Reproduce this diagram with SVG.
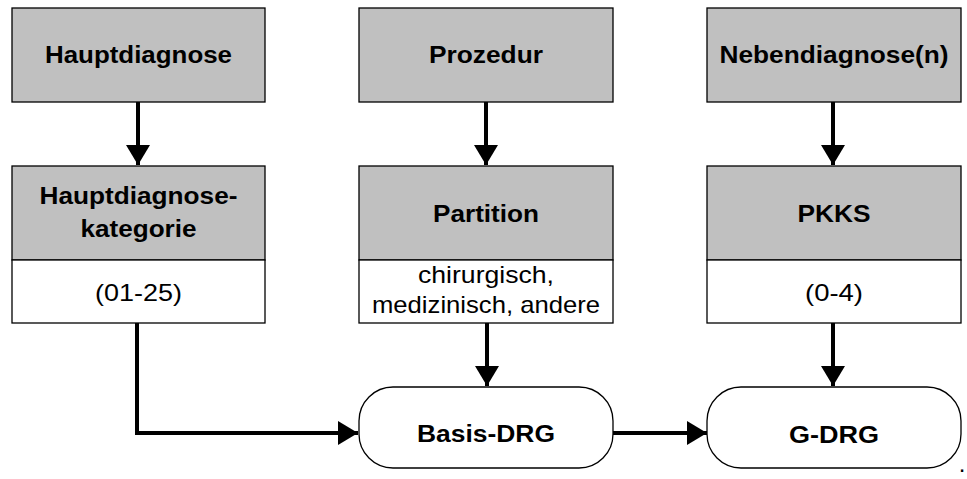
<svg xmlns="http://www.w3.org/2000/svg" width="967" height="479" viewBox="0 0 967 479">
<defs>
<style>
.g{fill:#c0c0c0;stroke:#000;stroke-width:1.3}
.w{fill:#fff;stroke:#000;stroke-width:1.3}
.b{font-family:"Liberation Sans",Arial,sans-serif;font-weight:bold;font-size:23.5px;text-anchor:middle;fill:#000}
.r{font-family:"Liberation Sans",Arial,sans-serif;font-size:24px;text-anchor:middle;fill:#000}
.c{fill:none;stroke:#000;stroke-width:4}
</style>
<marker id="ah" markerUnits="userSpaceOnUse" viewBox="0 0 20 24" refX="20" refY="12" markerWidth="20" markerHeight="24" orient="auto">
<path d="M0,0 L20,12 L0,24 Z" fill="#000"/>
</marker>
</defs>
<rect width="967" height="479" fill="#fff"/>
<g id="connectors">
<path class="c" d="M138,102 V165" marker-end="url(#ah)"/>
<path class="c" d="M486,102 V165" marker-end="url(#ah)"/>
<path class="c" d="M833,102 V165" marker-end="url(#ah)"/>
<path class="c" d="M137,323 V433 H358" marker-end="url(#ah)"/>
<path class="c" d="M487,323 V386" marker-end="url(#ah)"/>
<path class="c" d="M833,323 V386" marker-end="url(#ah)"/>
<path class="c" d="M612,433 H707" marker-end="url(#ah)"/>
</g>
<g id="hauptdiagnose">
<rect class="g" x="12" y="8" width="253" height="94"/>
<text class="b" x="138.5" y="63" textLength="187" lengthAdjust="spacingAndGlyphs">Hauptdiagnose</text>
</g>
<g id="prozedur">
<rect class="g" x="359" y="8" width="254" height="94"/>
<text class="b" x="486" y="63" textLength="114" lengthAdjust="spacingAndGlyphs">Prozedur</text>
</g>
<g id="nebendiagnose">
<rect class="g" x="707" y="8" width="254" height="94"/>
<text class="b" x="834" y="63" textLength="229" lengthAdjust="spacingAndGlyphs">Nebendiagnose(n)</text>
</g>
<g id="hauptdiagnosekategorie">
<rect class="g" x="12" y="166" width="253" height="94"/>
<rect class="w" x="12" y="260" width="253" height="63"/>
<text class="b" x="138.5" y="204" textLength="198" lengthAdjust="spacingAndGlyphs">Hauptdiagnose-</text>
<text class="b" x="138.5" y="236.5" textLength="116" lengthAdjust="spacingAndGlyphs">kategorie</text>
<text class="r" x="138.5" y="301" textLength="87" lengthAdjust="spacingAndGlyphs">(01-25)</text>
</g>
<g id="partition">
<rect class="g" x="359" y="166" width="254" height="94"/>
<rect class="w" x="359" y="260" width="254" height="63"/>
<text class="b" x="486" y="221.5" textLength="106" lengthAdjust="spacingAndGlyphs">Partition</text>
<text class="r" x="486" y="283" textLength="136" lengthAdjust="spacingAndGlyphs">chirurgisch,</text>
<text class="r" x="486" y="313" textLength="228" lengthAdjust="spacingAndGlyphs">medizinisch, andere</text>
</g>
<g id="pkks">
<rect class="g" x="707" y="166" width="254" height="94"/>
<rect class="w" x="707" y="260" width="254" height="63"/>
<text class="b" x="834" y="221.5" textLength="73" lengthAdjust="spacingAndGlyphs">PKKS</text>
<text class="r" x="834" y="301" textLength="58" lengthAdjust="spacingAndGlyphs">(0-4)</text>
</g>
<g id="basis-drg">
<rect class="w" x="359" y="387" width="254" height="81" rx="34" ry="34"/>
<text class="b" x="486" y="442" textLength="138" lengthAdjust="spacingAndGlyphs">Basis-DRG</text>
</g>
<g id="g-drg">
<rect class="w" x="707" y="387" width="254" height="81" rx="34" ry="34"/>
<text class="b" x="834" y="442.5" textLength="90" lengthAdjust="spacingAndGlyphs">G-DRG</text>
</g>
<text class="r" x="962" y="472">.</text>
</svg>
